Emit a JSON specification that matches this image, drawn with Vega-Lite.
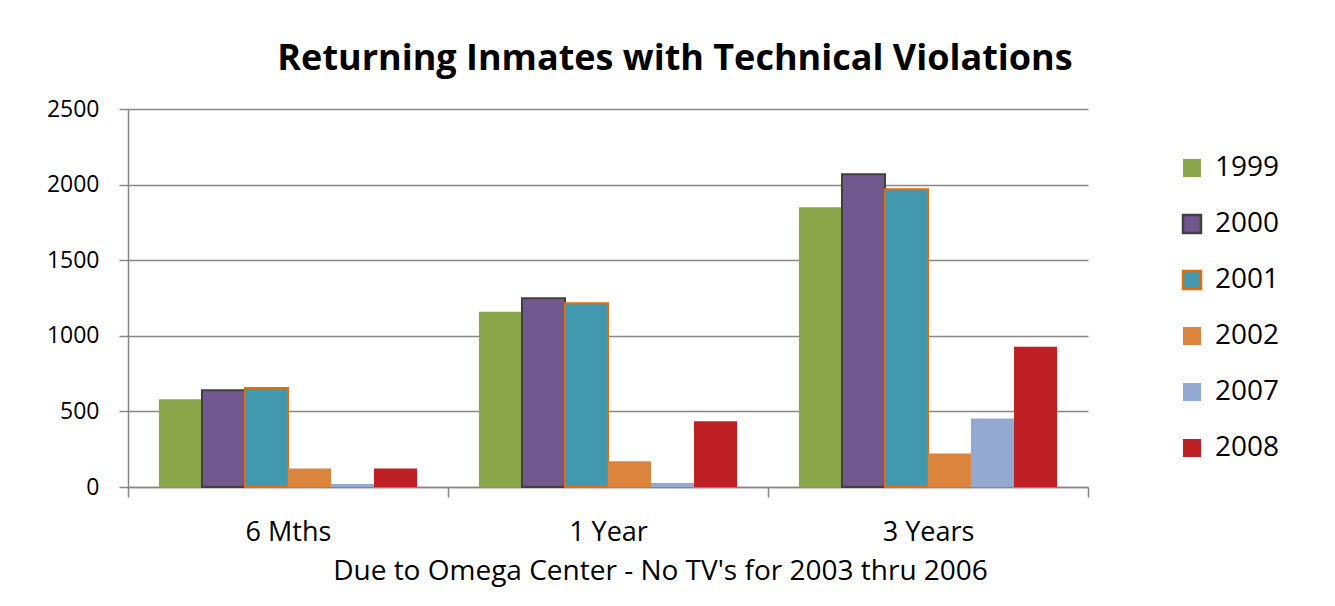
{
  "$schema": "https://vega.github.io/schema/vega-lite/v6.json",
  "width": 960,
  "height": 378,
  "autosize": {"type": "none"},
  "padding": {"left": 128, "top": 109, "right": 247, "bottom": 119},
  "background": "white",
  "title": {
    "text": "Returning Inmates with Technical Violations",
    "fontSize": 36,
    "fontWeight": "bold",
    "font": "Open Sans",
    "color": "black",
    "anchor": "middle",
    "dx": 67,
    "offset": 20
  },
  "data": {
    "values": [
      {"Period": "6 Mths", "Year": "1999", "Count": 581},
      {"Period": "6 Mths", "Year": "2000", "Count": 640},
      {"Period": "6 Mths", "Year": "2001", "Count": 655},
      {"Period": "6 Mths", "Year": "2002", "Count": 122},
      {"Period": "6 Mths", "Year": "2007", "Count": 20},
      {"Period": "6 Mths", "Year": "2008", "Count": 122},
      {"Period": "1 Year", "Year": "1999", "Count": 1159},
      {"Period": "1 Year", "Year": "2000", "Count": 1248},
      {"Period": "1 Year", "Year": "2001", "Count": 1215},
      {"Period": "1 Year", "Year": "2002", "Count": 170},
      {"Period": "1 Year", "Year": "2007", "Count": 27},
      {"Period": "1 Year", "Year": "2008", "Count": 435},
      {"Period": "3 Years", "Year": "1999", "Count": 1850},
      {"Period": "3 Years", "Year": "2000", "Count": 2068},
      {"Period": "3 Years", "Year": "2001", "Count": 1970},
      {"Period": "3 Years", "Year": "2002", "Count": 221},
      {"Period": "3 Years", "Year": "2007", "Count": 453},
      {"Period": "3 Years", "Year": "2008", "Count": 927}
    ]
  },
  "mark": {"type": "bar", "strokeWidth": 2},
  "encoding": {
    "x": {
      "field": "Period",
      "type": "nominal",
      "sort": ["6 Mths", "1 Year", "3 Years"],
      "scale": {"paddingInner": 0, "paddingOuter": 0},
      "axis": {
        "title": "Due to Omega Center - No TV's for 2003 thru 2006",
        "titleFontSize": 28,
        "titleFontWeight": "normal",
        "titleColor": "black",
        "titleX": 532,
        "titlePadding": 12,
        "labelAngle": 0,
        "labelFontSize": 27,
        "labelColor": "black",
        "labelPadding": 22,
        "tickBand": "extent",
        "tickSize": 10,
        "tickColor": "#868686",
        "tickWidth": 1.5,
        "domainColor": "#868686",
        "domainWidth": 1.5,
        "grid": false
      }
    },
    "xOffset": {
      "field": "Year",
      "type": "nominal",
      "scale": {"paddingInner": 0, "paddingOuter": 0.72}
    },
    "y": {
      "field": "Count",
      "type": "quantitative",
      "scale": {"domain": [0, 2500], "nice": false},
      "axis": {
        "title": null,
        "values": [0, 500, 1000, 1500, 2000, 2500],
        "format": "d",
        "labelFontSize": 23,
        "labelColor": "black",
        "labelPadding": 20,
        "tickSize": 9,
        "tickColor": "#868686",
        "tickWidth": 1.5,
        "domainColor": "#868686",
        "domainWidth": 1.5,
        "grid": true,
        "gridColor": "#868686",
        "gridWidth": 1.5
      }
    },
    "fill": {
      "field": "Year",
      "type": "nominal",
      "scale": {
        "domain": ["1999", "2000", "2001", "2002", "2007", "2008"],
        "range": ["#8AA54A", "#71588F", "#4198AF", "#DB843D", "#93A9CF", "#BE2026"]
      },
      "title": null
    },
    "stroke": {
      "field": "Year",
      "type": "nominal",
      "scale": {
        "domain": ["1999", "2000", "2001", "2002", "2007", "2008"],
        "range": ["rgba(0,0,0,0)", "#404040", "#E46C0A", "rgba(0,0,0,0)", "rgba(0,0,0,0)", "rgba(0,0,0,0)"]
      },
      "title": null
    }
  },
  "config": {
    "view": {"stroke": null},
    "font": "Open Sans",
    "legend": {
      "orient": "none",
      "legendX": 1050,
      "legendY": 45,
      "symbolType": "square",
      "symbolSize": 324,
      "symbolStrokeWidth": 2.5,
      "symbolOpacity": 1,
      "labelFontSize": 28,
      "labelColor": "black",
      "labelOffset": 9,
      "rowPadding": 28
    }
  }
}
